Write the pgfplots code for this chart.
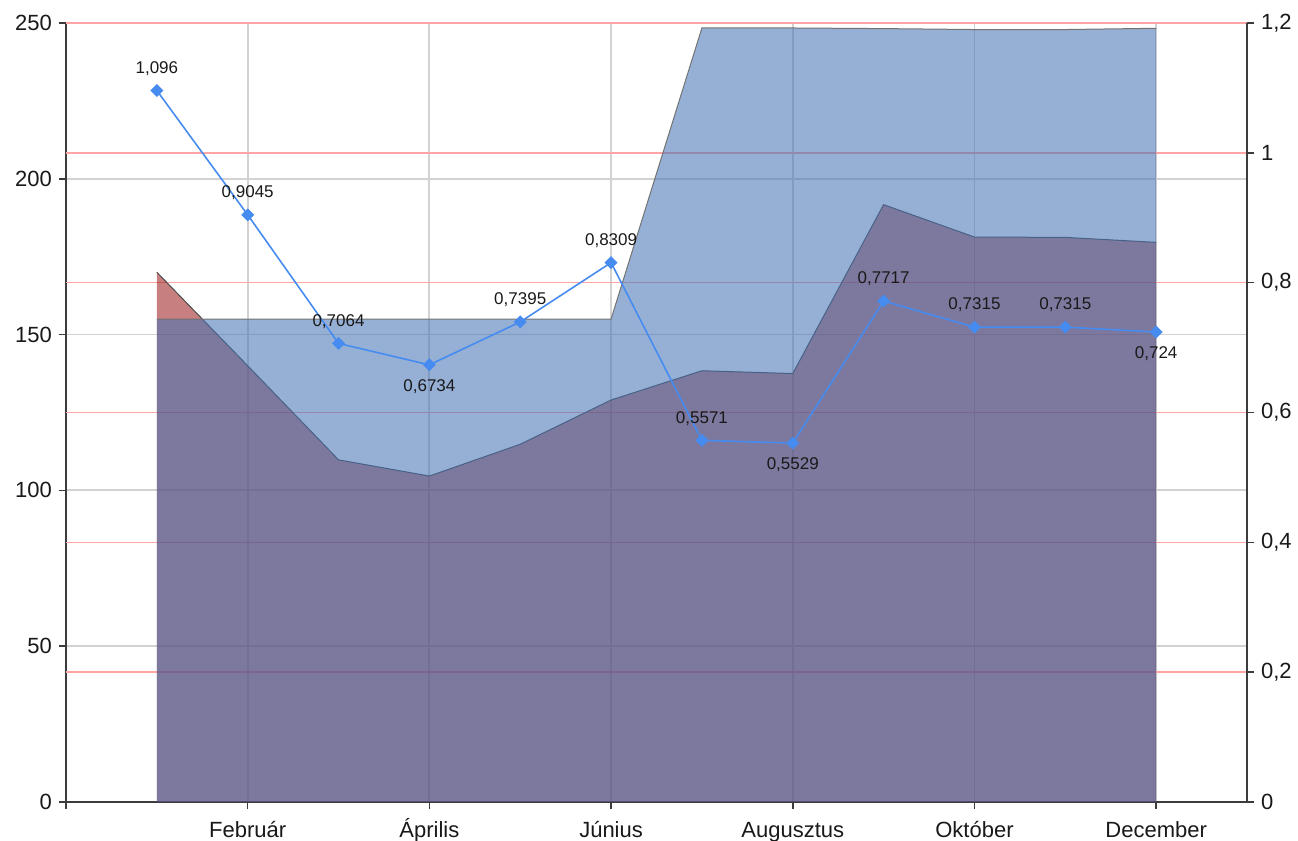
\documentclass[border=0pt]{standalone}
\usepackage{fontspec}
\setmainfont{Liberation Sans}
\usepackage{pgfplots}
\pgfplotsset{compat=1.18}
\usepackage{pgfplotstable}

\definecolor{bluearea}{RGB}{69,115,181}
\definecolor{redarea}{RGB}{145,0,0}
\definecolor{linecol}{RGB}{70,140,240}
\definecolor{axiscol}{RGB}{60,60,60}
\definecolor{graygrid}{RGB}{210,210,210}
\definecolor{redgrid}{RGB}{255,165,165}

\pgfplotstableread{
x areaA areaB
1  155.0 170.0
2  155.0 140.0
3  155.0 109.8
4  155.0 104.6
5  155.0 114.8
6  155.0 129.0
7  248.4 138.4
8  248.4 137.5
9  248.2 191.7
10 247.9 181.3
11 247.9 181.2
12 248.3 179.6
}\areas

\pgfplotstableread{
x y lbl pos
1  1.096  1,096  1
2  0.9045 0,9045 1
3  0.7064 0,7064 1
4  0.6734 0,6734 -1
5  0.7395 0,7395 1
6  0.8309 0,8309 1
7  0.5571 0,5571 1
8  0.5529 0,5529 -1
9  0.7717 0,7717 1
10 0.7315 0,7315 1
11 0.7315 0,7315 1
12 0.724  0,724  -1
}\ratio

\begin{document}
\begin{tikzpicture}
\useasboundingbox (0,0) rectangle (649pt,420.5pt);
\begin{axis}[
  at={(33pt,19.5pt)}, anchor=south west,
  scale only axis, width=590.5pt, height=389.5pt,
  xmin=0, xmax=13, ymin=0, ymax=250,
  axis x line*=bottom, axis y line*=left,
  xtick={0,2,4,6,8,10,12},
  xticklabels={,Február,Április,Június,Augusztus,Október,December},
  ytick={0,50,100,150,200,250},
  /pgf/number format/assume math mode=true,
  tick align=outside,
  major tick length=3.5pt,
  xmajorgrids, ymajorgrids,
  major grid style={graygrid, line width=0.9pt},
  extra y ticks={41.6667,83.3333,125,166.6667,208.3333,250},
  extra y tick labels={},
  extra y tick style={grid=major, major grid style={redgrid, line width=0.8pt}, tick style={draw=none}},
  axis line style={axiscol, line width=0.8pt},
  tick style={axiscol, line width=0.8pt},
  ticklabel style={font=\fontsize{11}{13}\selectfont, text=black!90},
  xticklabel style={text height=9pt, text depth=2pt, yshift=-1.5pt},
]
\addplot[fill=redarea, fill opacity=0.5, draw=none] table[x=x,y=areaB]{\areas} \closedcycle;
\addplot[black!70, line width=0.5pt] table[x=x,y=areaB]{\areas};
\addplot[fill=bluearea, fill opacity=0.57, draw=none] table[x=x,y=areaA]{\areas} \closedcycle;
\addplot[black!55, line width=0.5pt] table[x=x,y=areaA]{\areas};
\end{axis}
\begin{axis}[
  at={(33pt,19.5pt)}, anchor=south west,
  scale only axis, width=590.5pt, height=389.5pt,
  xmin=0, xmax=13, ymin=0, ymax=1.2,
  axis y line*=right, axis x line=none,
  ytick={0,0.2,0.4,0.6,0.8,1,1.2},
  yticklabel style={/pgf/number format/.cd, fixed, use comma, assume math mode=true},
  tick align=outside,
  major tick length=3.5pt,
  axis line style={axiscol, line width=0.8pt},
  tick style={axiscol, line width=0.8pt},
  ticklabel style={font=\fontsize{11}{13}\selectfont, text=black!90},
]
\addplot[linecol, line width=0.8pt, mark=square*, mark size=1.9pt,
  mark options={rotate=45, fill=linecol, draw=linecol},
  point meta=explicit symbolic, nodes near coords,
  visualization depends on={\thisrow{pos} \as \lp},
  every node near coord/.append style={anchor=center, yshift={\lp*11pt}, font=\fontsize{8.5}{10}\selectfont, text=black!90}]
  table[x=x, y=y, meta=lbl]{\ratio};
\end{axis}
\end{tikzpicture}
\end{document}
